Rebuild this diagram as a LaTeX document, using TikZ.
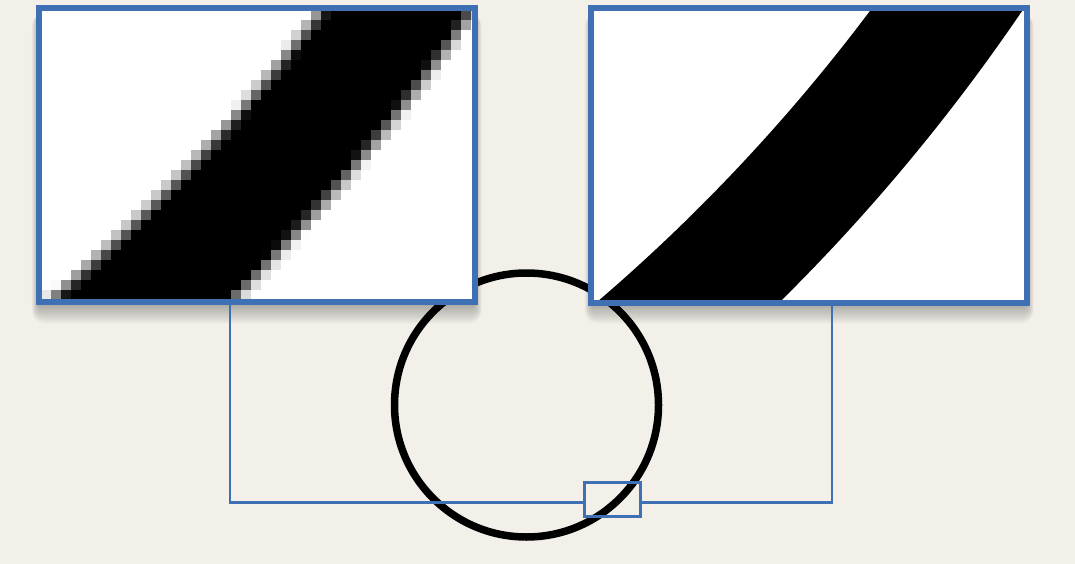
\documentclass[tikz,border=0pt]{standalone}
\definecolor{bg}{RGB}{242,240,233}
\definecolor{frameblue}{RGB}{64,112,180}
\tikzset{
  boxfill/.style={rectangle, fill=white, draw=none, inner sep=0pt, outer sep=0pt,
    minimum width=436pt, minimum height=294pt},
  boxline/.style={draw=frameblue, line width=6pt},
  conn/.style={draw=frameblue, line width=2.4pt},
  zoombox/.style={rectangle, draw=frameblue, line width=3pt, inner sep=0pt, outer sep=0pt,
    minimum width=56pt, minimum height=34pt},
  ring/.style={circle, draw=black, line width=7.5pt, inner sep=0pt, minimum size=264pt},
}
\begin{document}
\begin{tikzpicture}[x=1pt,y=-1pt]
\fill[bg] (0,0) rectangle (1075,564);
\useasboundingbox (0,0) rectangle (1075,564);

% the circle
\node[ring] (ring) at (526.5,405) {};

% soft shadows under the two panels
\foreach \L/\R in {38.5/475, 591.5/1027}{
  \foreach \i in {0,...,13}{
    \fill[black,opacity=0.025,rounded corners=\i pt]
      (\L+1-\i*0.6, 14) rectangle (\R-1+\i*0.6, 304+\i*1.5);
  }
}

% panels (white)
\node[boxfill] (pix) at (256.75,155) {};
\node[boxfill] (smooth) at (809.25,155.5) {};

% smooth band
\begin{scope}
  \clip (smooth.south west) rectangle (smooth.north east);
  \fill[black,even odd rule] (-583.5,-1078) circle[radius=1939.8pt]
                             (-583.5,-1078) circle[radius=1816pt];
\end{scope}

% pixelated band
\begin{scope}
  \clip (pix.south west) rectangle (pix.north east);
  \foreach \i in {0,...,43}{
    \foreach \j in {0,...,29}{
      \edef\cov{\fpeval{round(100*max(0,min(1,0.5+min(
        sqrt((41+10*\i+5+1132.5)^2+(10+10*\j+5+1078)^2)-1816,
        1939.8-sqrt((41+10*\i+5+1132.5)^2+(10+10*\j+5+1078)^2))/(1.6*10))),0)}}
      \ifnum\cov>0
        \fill[black!\cov] (41+10*\i,10+10*\j) rectangle +(10.3,10.3);
      \fi
    }
  }
\end{scope}

% zoom box and connectors
\node[zoombox] (zoom) at (612.5,499.5) {};
\draw[conn] ([yshift=-3pt]zoom.west) -| ([xshift=-26.75pt]pix.south);
\draw[conn] ([yshift=-3pt]zoom.east) -| ([xshift=22.75pt]smooth.south);

% panel frames
\draw[boxline] (pix.south west) rectangle (pix.north east);
\draw[boxline] (smooth.south west) rectangle (smooth.north east);
\end{tikzpicture}
\end{document}
